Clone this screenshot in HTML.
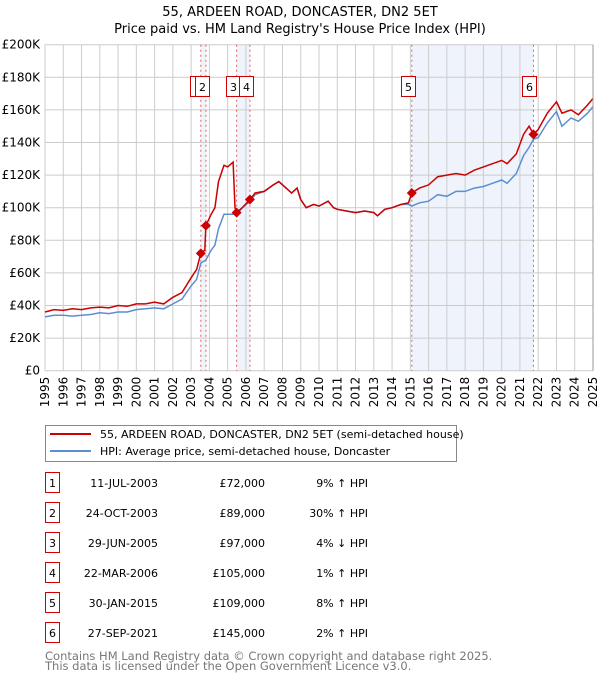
<!DOCTYPE html>
<html><head><meta charset="utf-8"><style>
body{margin:0;background:#fff;font-family:"Liberation Sans","DejaVu Sans",sans-serif;}
svg text{font-family:"DejaVu Sans","Liberation Sans",sans-serif;}
</style></head><body>
<svg id="chart" width="600" height="680" viewBox="0 0 600 680" xmlns="http://www.w3.org/2000/svg">
<text x="300" y="16" text-anchor="middle" font-size="13">55, ARDEEN ROAD, DONCASTER, DN2 5ET</text>
<text x="300" y="33" text-anchor="middle" font-size="13">Price paid vs. HM Land Registry's House Price Index (HPI)</text>
<g id="shade"></g><g id="grid"></g><g id="vlines"></g><g id="series"></g><g id="marks"></g><g id="axes"></g>
<g>
<rect x="45.5" y="425.5" width="411" height="36" fill="#fff" stroke="#888"/>
<line x1="50" y1="434" x2="91" y2="434" stroke="#cc0000" stroke-width="2"/>
<text x="100" y="438" font-size="11">55, ARDEEN ROAD, DONCASTER, DN2 5ET (semi-detached house)</text>
<line x1="50" y1="451" x2="91" y2="451" stroke="#5b8fd0" stroke-width="2"/>
<text x="100" y="455" font-size="11">HPI: Average price, semi-detached house, Doncaster</text>
</g>
<g id="table"></g>
<text x="45" y="660" font-size="11.5" fill="#777">Contains HM Land Registry data © Crown copyright and database right 2025.</text>
<text x="45" y="670" font-size="11.5" fill="#777">This data is licensed under the Open Government Licence v3.0.</text>
</svg>
<script>
const years=[1995,1996,1997,1998,1999,2000,2001,2002,2003,2004,2005,2006,2007,2008,2009,2010,2011,2012,2013,2014,2015,2016,2017,2018,2019,2020,2021,2022,2023,2024,2025];
const yTicks=[0,20,40,60,80,100,120,140,160,180,200];
const redX=[1995,1995.5,1996,1996.5,1997,1997.5,1998,1998.5,1999,1999.5,2000,2000.5,2001,2001.5,2002,2002.5,2003,2003.3,2003.53,2003.75,2003.81,2004.1,2004.3,2004.5,2004.8,2005,2005.3,2005.4,2005.49,2005.8,2006.22,2006.5,2007,2007.5,2007.8,2008.2,2008.5,2008.8,2009,2009.3,2009.7,2010,2010.5,2010.8,2011,2011.5,2012,2012.5,2013,2013.2,2013.6,2014,2014.5,2014.9,2015.08,2015.5,2016,2016.5,2017,2017.5,2018,2018.5,2019,2019.5,2020,2020.3,2020.8,2021.2,2021.5,2021.74,2022,2022.5,2023,2023.3,2023.8,2024.2,2024.7,2025];
const redY=[36,37.5,37,38,37.5,38.5,39,38.5,40,39.5,41,41,42,41,45,48,57,62,72,74,89,96,100,116,126,125,128,100,97,100,105,109,110,114,116,112,109,112,105,100,102,101,104,100,99,98,97,98,97,95,99,100,102,103,109,112,114,119,120,121,120,123,125,127,129,127,133,145,150,145,148,158,165,158,160,157,163,167];
const hpiX=[1995,1995.5,1996,1996.5,1997,1997.5,1998,1998.5,1999,1999.5,2000,2000.5,2001,2001.5,2002,2002.5,2003,2003.3,2003.53,2003.81,2004.1,2004.3,2004.5,2004.8,2005,2005.49,2005.8,2006.22,2006.5,2007,2007.5,2007.8,2008.2,2008.5,2008.8,2009,2009.3,2009.7,2010,2010.5,2010.8,2011,2011.5,2012,2012.5,2013,2013.2,2013.6,2014,2014.5,2014.9,2015.08,2015.5,2016,2016.5,2017,2017.5,2018,2018.5,2019,2019.5,2020,2020.3,2020.8,2021.2,2021.5,2021.74,2022,2022.5,2023,2023.3,2023.8,2024.2,2024.7,2025];
const hpiY=[33,34,34,33.5,34,34.5,35.5,35,36,36,37.5,38,38.5,38,41,44,52,56,66,68,74,77,87,96,96,96,100,104,108,110,114,116,112,109,112,105,100,102,101,104,100,99,98,97,98,97,95,99,100,102,102,101,103,104,108,107,110,110,112,113,115,117,115,121,132,137,142,143,152,159,150,155,153,158,162];
const saleX=[2003.53,2003.81,2005.49,2006.22,2015.08,2021.74];
const saleY=[72,89,97,105,109,145];
const saleDates=["11-JUL-2003","24-OCT-2003","29-JUN-2005","22-MAR-2006","30-JAN-2015","27-SEP-2021"];
const salePrices=["£72,000","£89,000","£97,000","£105,000","£109,000","£145,000"];
const saleHpi=["9% ↑ HPI","30% ↑ HPI","4% ↓ HPI","1% ↑ HPI","8% ↑ HPI","2% ↑ HPI"];
const shadeSpans=[[0,1],[2,3],[4,5]];

const NS="http://www.w3.org/2000/svg";
const X0=45,X1=593,Y0=370.7,Y1=44.7;
const sx=v=>X0+(v-1995)/30*(X1-X0);
const sy=v=>Y0-v/200*(Y0-Y1);
function mk(tag,attrs,parent,txt){const e=document.createElementNS(NS,tag);for(const k in attrs)e.setAttribute(k,attrs[k]);if(txt!=null)e.textContent=txt;document.getElementById(parent).appendChild(e);return e;}

shadeSpans.forEach(s=>{
  const r=mk('rect',{x:sx(saleX[s[0]]),y:Y1,width:sx(saleX[s[1]])-sx(saleX[s[0]]),height:Y0-Y1,fill:'#eef3fc'},'shade');
  
  
});
yTicks.forEach(t=>{
  const l=mk('line',{x1:X0,x2:X1,y1:sy(t),y2:sy(t),stroke:'#ccc','stroke-width':1},'grid');
  
  
  const tx=mk('text',{x:X0-5,y:sy(t)+4,'text-anchor':'end','font-size':12},'axes',t===0?'£0':'£'+t+'K');
  
  
});
years.forEach(y=>{
  const l=mk('line',{x1:sx(y),x2:sx(y),y1:Y1,y2:Y0,stroke:'#ccc','stroke-width':1},'grid');
  
  
  const tx=mk('text',{x:0,y:0,'text-anchor':'end','font-size':12,transform:`translate(${sx(y)+4},${Y0+6}) rotate(-90)`},'axes',String(y));
  
  
});
const fr=mk('line',{x1:X1,x2:X1,y1:Y1,y2:Y0,stroke:'#999','stroke-width':1},'axes');


saleX.forEach((x,i)=>{
  const l=mk('line',{x1:sx(x),x2:sx(x),y1:Y1,y2:Y0,stroke:'#e06060','stroke-width':1,'stroke-dasharray':'2,3'},'vlines');
  
  
});
function pts(xs,ys){return xs.map((x,i)=>sx(x).toFixed(1)+','+sy(ys[i]).toFixed(1)).join(' ');}
const hp=mk('polyline',{points:pts(hpiX,hpiY),fill:'none',stroke:'#5b8fd0','stroke-width':1.5},'series');


const rp=mk('polyline',{points:pts(redX,redY),fill:'none',stroke:'#cc0000','stroke-width':1.5},'series');


saleX.forEach((x,i)=>{
  const cx=sx(x),cy=sy(saleY[i]);
  const d=mk('polygon',{points:`${cx},${cy-5} ${cx+5},${cy} ${cx},${cy+5} ${cx-5},${cy}`,fill:'#cc0000'},'marks');
  
  
});
saleX.forEach((x,i)=>{
  const cx=sx(x);
  const bx=Math.round(cx-11)+0.5;
  const g=mk('rect',{x:bx,y:76.5,width:14,height:20,fill:'#fff',stroke:'#cc0000'},'marks');
  
  
  const t=mk('text',{x:bx+7,y:91,'text-anchor':'middle','font-size':11},'marks',String(i+1));
  
  
});
saleDates.forEach((d,i)=>{
  const y=483+i*30;
  const b=mk('rect',{x:45.5,y:y-10.5,width:14,height:20,fill:'#fff',stroke:'#cc0000'},'table');
  
  
  const n=mk('text',{x:52.5,y:y+4,'text-anchor':'middle','font-size':11},'table',String(i+1));
  
  
  const a=mk('text',{x:158,y:y+4,'text-anchor':'end','font-size':11},'table',d);
  
  
  const p=mk('text',{x:265,y:y+4,'text-anchor':'end','font-size':11},'table',salePrices[i]);
  
  
  const h=mk('text',{x:368,y:y+4,'text-anchor':'end','font-size':11},'table',saleHpi[i]);
  
  
});
</script>
</body></html>
